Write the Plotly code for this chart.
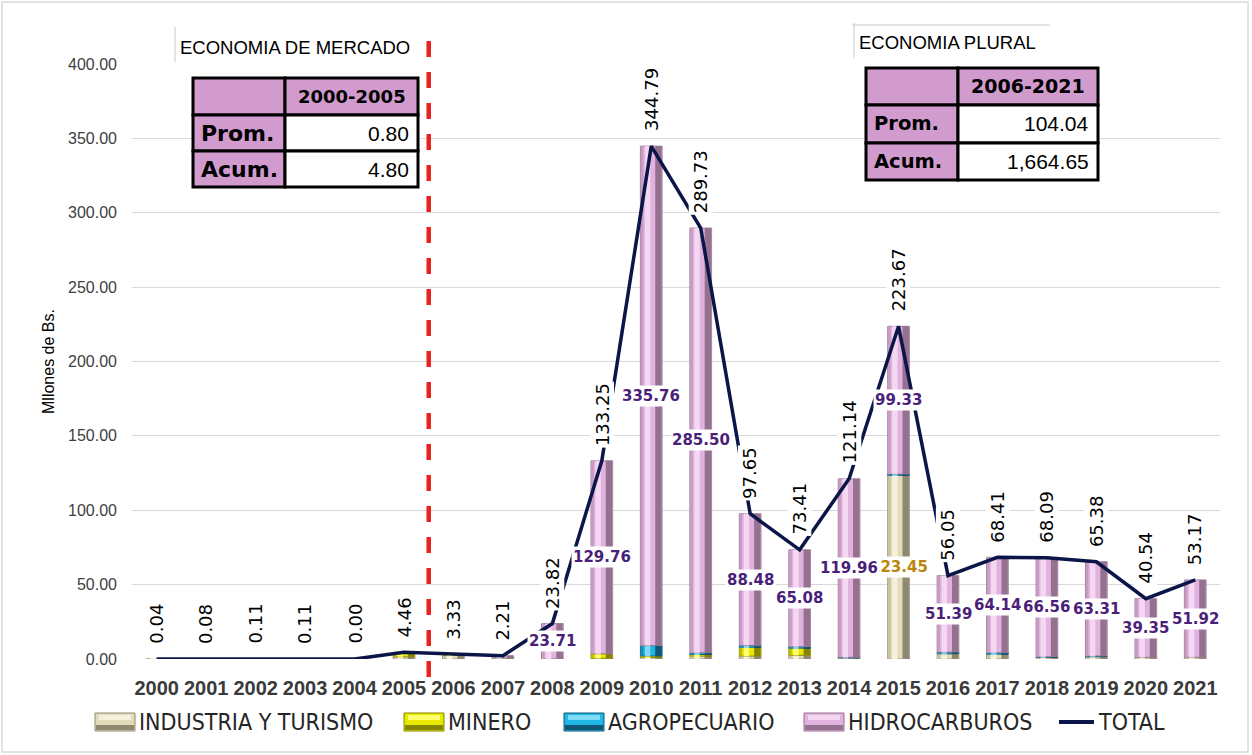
import plotly.graph_objects as go

# ---------------- data ----------------
years = [str(y) for y in range(2000, 2022)]
industria = [0.04, 0.08, 0.11, 0.11, 0.00, 1.50, 2.50, 0.71, 0.11, 0.50, 1.00,
             2.00, 2.00, 2.50, 0.68, 123.45, 3.50, 3.30, 1.03, 1.50, 1.19, 1.25]
minero = [0, 0, 0, 0, 0, 2.96, 0.83, 0, 0, 2.99, 1.03,
          1.03, 5.97, 4.83, 0, 0, 0, 0, 0, 0, 0, 0]
agropecuario = [0, 0, 0, 0, 0, 0, 0, 0, 0, 0, 7.00,
                1.20, 1.20, 1.00, 0.50, 0.89, 1.16, 0.97, 0.50, 0.57, 0, 0]
hidrocarburos = [0, 0, 0, 0, 0, 0, 0, 1.50, 23.71, 129.76, 335.76,
                 285.50, 88.48, 65.08, 119.96, 99.33, 51.39, 64.14, 66.56, 63.31, 39.35, 51.92]
total = [0.04, 0.08, 0.11, 0.11, 0.00, 4.46, 3.33, 2.21, 23.82, 133.25, 344.79,
         289.73, 97.65, 73.41, 121.14, 223.67, 56.05, 68.41, 68.09, 65.38, 40.54, 53.17]

series_names = ["INDUSTRIA Y TURISMO", "MINERO", "AGROPECUARIO", "HIDROCARBUROS"]
total_name = "TOTAL"

table_left_title = "ECONOMIA DE MERCADO"
table_left_period = "2000-2005"
table_left_values = ["0.80", "4.80"]
table_right_title = "ECONOMIA PLURAL"
table_right_period = "2006-2021"
table_right_values = ["104.04", "1,664.65"]
row_labels = ["Prom.", "Acum."]
y_title = "Mllones de Bs."

# ---------------- style ----------------
W, H = 1252, 755
L, R, T, B = 132, 32, 64, 96
PW, PH = W - L - R, H - T - B


def px(x):
    return (x - L) / PW


def py(y):
    return (H - B - y) / PH


palettes = {
    "INDUSTRIA Y TURISMO": ["#E3DBB9", "#C7C0A0", "#F4F0DC", "#8E8870"],
    "MINERO": ["#E8E800", "#BDBD00", "#FFFF70", "#858500"],
    "AGROPECUARIO": ["#1FB6E6", "#168FB8", "#80D9F5", "#0E5674"],
    "HIDROCARBUROS": ["#E2B2DF", "#C69CC2", "#F4D8F2", "#94718F"],
}
LINE_COLOR = "#0B1547"

fig = go.Figure()
BW = 0.44
xi = list(range(len(years)))

stack_vals = [industria, minero, agropecuario, hidrocarburos]
base = [0.0] * len(years)
bases = []
for name, vals in zip(series_names, stack_vals):
    bases.append(list(base))
    pal = palettes[name]
    yv = [v if v > 0 else None for v in vals]
    common = dict(x=years, y=yv, base=list(base), hoverinfo="skip", showlegend=False)
    fig.add_trace(go.Bar(name=name, width=BW, offset=-BW / 2,
                         marker=dict(color=pal[0], line=dict(color=pal[3], width=0.8)), **common))
    fig.add_trace(go.Bar(width=0.05, offset=-BW / 2 + 0.01,
                         marker=dict(color=pal[1], line=dict(width=0)), **common))
    fig.add_trace(go.Bar(width=0.11, offset=-0.13,
                         marker=dict(color=pal[2], line=dict(width=0)), **common))
    fig.add_trace(go.Bar(width=0.13, offset=BW / 2 - 0.14,
                         marker=dict(color=pal[3], line=dict(width=0)), **common))
    base = [b + v for b, v in zip(base, vals)]

fig.add_trace(go.Scatter(x=years, y=total, name=total_name, mode="lines", showlegend=False,
                         line=dict(color=LINE_COLOR, width=3.5), hoverinfo="skip"))

annotations = []
# industria labels (only the large one)
for i, v in zip(xi, industria):
    if v > 100:
        annotations.append(dict(x=i, y=bases[0][i] + v / 2, xref="x", yref="y",
                                text=f"{v:.2f}", showarrow=False, bgcolor="white", borderpad=1,
                                font=dict(family="DejaVu Sans", size=15, color="#B8860B", weight="bold")))
# hidrocarburos labels
for i, v in zip(xi, hidrocarburos):
    if v > 10:
        annotations.append(dict(x=i, y=bases[3][i] + v / 2, xref="x", yref="y",
                                text=f"{v:.2f}", showarrow=False, bgcolor="white", borderpad=1,
                                font=dict(family="DejaVu Sans", size=15, color="#4A1F7A", weight="bold")))
# total labels (vertical, above the point)
for i, v in zip(xi, total):
    annotations.append(dict(x=i, y=v, xref="x", yref="y", text=f"{v:.2f}", textangle=-90,
                            showarrow=False, bgcolor="white", borderpad=1,
                            yanchor="bottom", yshift=13,
                            font=dict(family="DejaVu Sans", size=18, color="black")))

# y-axis title
annotations.append(dict(x=px(48), y=py(362), xref="paper", yref="paper", text=y_title,
                        textangle=-90, showarrow=False, xanchor="center", yanchor="middle",
                        font=dict(family="Liberation Sans", size=16, color="black")))

shapes = []
# chart outer border
shapes.append(dict(type="rect", xref="paper", yref="paper", x0=px(2), x1=px(1248), y0=py(752), y1=py(2),
                   line=dict(color="#D9D9D9", width=1.5), layer="below"))
# red divider between 2005 and 2006
shapes.append(dict(type="line", xref="x", yref="paper", x0=5.5, x1=5.5, y0=py(677), y1=py(33),
                   line=dict(color="#E8231F", width=4.5, dash="16px,15px")))

PINK = "#D29BCE"


def add_table(xs, ys, title, title_xy, period, values, hdr_size, lab_size, val_size):
    tx, ty = title_xy
    shapes.append(dict(type="line", xref="paper", yref="paper", x0=px(tx - 3), x1=px(tx - 3),
                       y0=py(ty + 15), y1=py(ty - 20), line=dict(color="#C8C8C8", width=1)))
    annotations.append(dict(x=px(tx), y=py(ty), xref="paper", yref="paper", text=title,
                            xanchor="left", yanchor="middle", showarrow=False,
                            font=dict(family="Liberation Sans", size=18.5, color="black")))
    fills = [[PINK, PINK], [PINK, "white"], [PINK, "white"]]
    for r in range(3):
        for c in range(2):
            shapes.append(dict(type="rect", xref="paper", yref="paper",
                               x0=px(xs[c]), x1=px(xs[c + 1]), y0=py(ys[r + 1]), y1=py(ys[r]),
                               fillcolor=fills[r][c], line=dict(color="black", width=3), layer="above"))
    annotations.append(dict(x=px((xs[1] + xs[2]) / 2), y=py((ys[0] + ys[1]) / 2), xref="paper", yref="paper",
                            text=period, showarrow=False, xanchor="center", yanchor="middle",
                            font=dict(family="DejaVu Sans", size=hdr_size, color="black", weight="bold")))
    for r in range(2):
        yc = py((ys[r + 1] + ys[r + 2]) / 2)
        annotations.append(dict(x=px(xs[0] + 6), y=yc, xref="paper", yref="paper", text=row_labels[r],
                                showarrow=False, xanchor="left", yanchor="middle",
                                font=dict(family="DejaVu Sans", size=lab_size, color="black", weight="bold")))
        annotations.append(dict(x=px(xs[2] - 7), y=yc, xref="paper", yref="paper", text=values[r],
                                showarrow=False, xanchor="right", yanchor="middle",
                                font=dict(family="Liberation Sans", size=val_size, color="black")))


add_table([193, 285, 418], [78, 115, 151, 187], table_left_title, (178, 47), table_left_period,
          table_left_values, 18, 22, 21)
add_table([866, 958, 1098], [68, 105, 143, 180], table_right_title, (857, 43), table_right_period,
          table_right_values, 19, 19.5, 21)
shapes.append(dict(type="line", xref="paper", yref="paper", x0=px(852), x1=px(1050),
                   y0=py(25), y1=py(25), line=dict(color="#C8C8C8", width=1)))

# ---------------- legend (drawn as a key row below the axis) ----------------
LEG_Y = 722
legend_icon_x = [95, 404, 564, 804]
legend_font = dict(family="Liberation Sans Narrow, DejaVu Sans Condensed, Arial Narrow",
                   size=23, color="#262626")
for name, x0 in zip(series_names, legend_icon_x):
    pal = palettes[name]
    shapes.append(dict(type="rect", xref="paper", yref="paper", x0=px(x0), x1=px(x0 + 40),
                       y0=py(LEG_Y + 9), y1=py(LEG_Y - 9), fillcolor=pal[0],
                       line=dict(color=pal[3], width=1)))
    shapes.append(dict(type="rect", xref="paper", yref="paper", x0=px(x0 + 1), x1=px(x0 + 39),
                       y0=py(LEG_Y + 8), y1=py(LEG_Y + 3), fillcolor=pal[3], line=dict(width=0)))
    shapes.append(dict(type="rect", xref="paper", yref="paper", x0=px(x0 + 4), x1=px(x0 + 36),
                       y0=py(LEG_Y - 2), y1=py(LEG_Y - 7), fillcolor=pal[2], line=dict(width=0)))
    annotations.append(dict(x=px(x0 + 42), y=py(LEG_Y), xref="paper", yref="paper", text=name,
                            xanchor="left", yanchor="middle", showarrow=False, font=legend_font))
shapes.append(dict(type="line", xref="paper", yref="paper", x0=px(1059), x1=px(1094),
                   y0=py(LEG_Y), y1=py(LEG_Y), line=dict(color=LINE_COLOR, width=4)))
annotations.append(dict(x=px(1096), y=py(LEG_Y), xref="paper", yref="paper", text=total_name,
                        xanchor="left", yanchor="middle", showarrow=False, font=legend_font))

fig.update_layout(
    width=W, height=H,
    margin=dict(l=L, r=R, t=T, b=B),
    paper_bgcolor="white", plot_bgcolor="white",
    barmode="overlay",
    showlegend=False,
    xaxis=dict(type="category", range=[-0.5, 21.5], showgrid=False, zeroline=False,
               showline=False, ticks="", ticklabelstandoff=15,
               tickfont=dict(family="Liberation Sans", size=20, color="#3A3A3A", weight="bold")),
    yaxis=dict(range=[0, 400], dtick=50, tickformat=".2f", showgrid=True, gridcolor="#D9D9D9",
               gridwidth=1.3, zeroline=False, showline=False, ticks="", ticklabelstandoff=14,
               tickfont=dict(family="Liberation Sans", size=16, color="#404040")),
    annotations=annotations,
    shapes=shapes,
)

fig.write_html("out.html", config={"displayModeBar": False},
               post_script="document.body.style.margin='0px';")
